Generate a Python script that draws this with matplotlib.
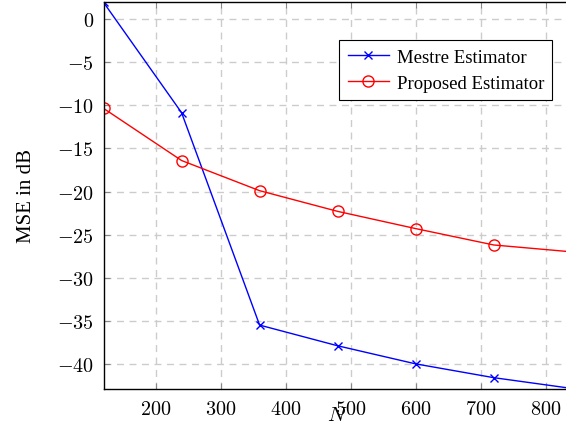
import matplotlib
matplotlib.use("Agg")
import matplotlib.pyplot as plt
from matplotlib.ticker import FuncFormatter

# data
N = [120, 240, 360, 480, 600, 720, 840]
mse_mestre = [1.95, -10.85, -35.5, -37.9, -40.0, -41.6, -42.85]
mse_proposed = [-10.35, -16.4, -19.9, -22.3, -24.3, -26.2, -27.0]

plt.rcParams['font.family'] = 'serif'
plt.rcParams['font.serif'] = ['Liberation Serif', 'DejaVu Serif']
plt.rcParams['mathtext.fontset'] = 'cm'

fig = plt.figure(figsize=(5.66, 4.27), dpi=100)
# axes run past the right edge of the figure, as in the cropped original
ax = fig.add_axes([0.183, 0.087, 0.827, 0.906])

ax.plot(N, mse_mestre, color='blue', marker='x', markersize=6, linewidth=1.0,
        label='Mestre Estimator')
ax.plot(N, mse_proposed, color='red', marker='o', markersize=8, linewidth=1.0,
        markerfacecolor='none', label='Proposed Estimator')

ax.set_xlim(120, 840)
ax.set_ylim(-42.9, 2.0)
ax.set_xticks([200, 300, 400, 500, 600, 700, 800])
ax.set_yticks([0, -5, -10, -15, -20, -25, -30, -35, -40])
ax.xaxis.set_major_formatter(FuncFormatter(lambda v, p: r'$%d$' % v))
ax.yaxis.set_major_formatter(FuncFormatter(lambda v, p: r'$%d$' % v))
ax.tick_params(direction='in', top=True, right=True, labelsize=14.5, length=4,
               color='#888888')
ax.tick_params(axis='x', pad=8)
ax.tick_params(axis='y', pad=7)

ax.grid(True, color='#cccccc', linestyle=(0, (5, 4)), linewidth=1.0)
for s in ax.spines.values():
    s.set_linewidth(1.0)

ax.set_xlabel(r'$N$', fontsize=15)
ax.xaxis.set_label_coords(0.5, -0.045)
ax.set_ylabel('MSE in dB', fontsize=15)
ax.yaxis.set_label_coords(-0.145, 0.5)

leg = ax.legend(loc='upper right', bbox_to_anchor=(0.976, 0.904),
                bbox_transform=fig.transFigure, fontsize=13.5, fancybox=False,
                framealpha=1, edgecolor='black', borderpad=0.45,
                handlelength=2.2, handletextpad=0.4, labelspacing=0.5,
                borderaxespad=0)
leg.get_frame().set_linewidth(0.8)

fig.savefig('out.png', dpi=100)
